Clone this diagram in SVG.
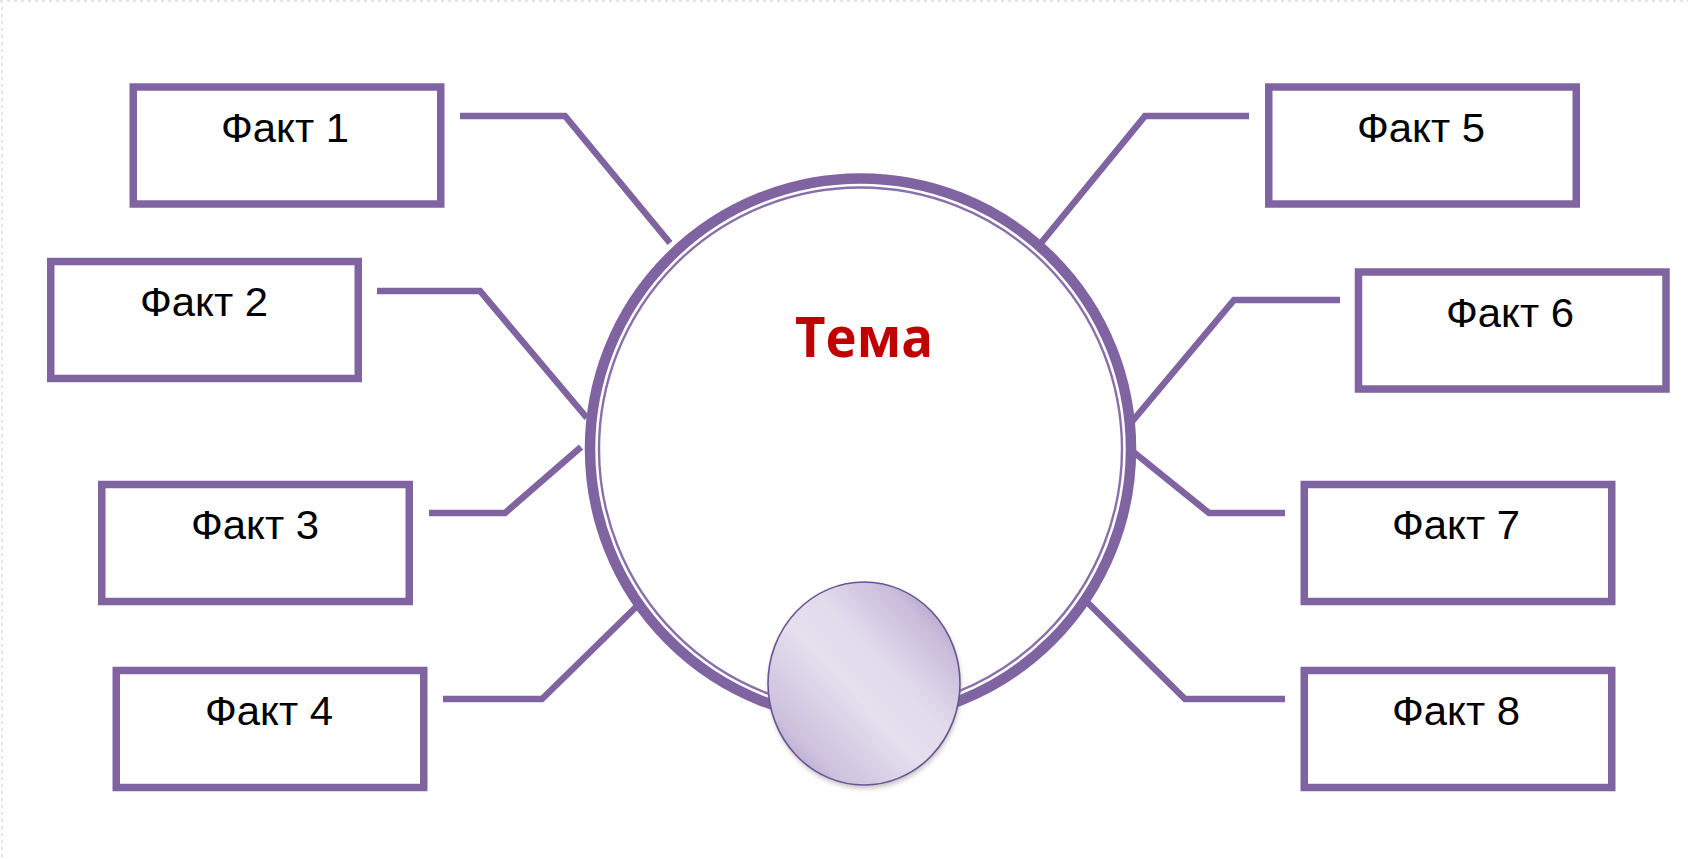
<svg xmlns="http://www.w3.org/2000/svg" width="1688" height="859" viewBox="0 0 1688 859">
  <style>
    .box { fill: #ffffff; stroke: #8064a2; stroke-width: 7.5; }
    .conn { fill: none; stroke: #8064a2; stroke-width: 6.5; stroke-linejoin: miter; }
    .fact { font-family: "Liberation Sans", Arial, sans-serif; font-size: 40px; fill: #000000; text-anchor: middle; }
    .topic { font-family: "Open Sans", "Liberation Sans", sans-serif; font-weight: bold; font-size: 56px; fill: #c00000; text-anchor: middle; }
  </style>
  <defs>
    <linearGradient id="bead" x1="0" y1="1" x2="1" y2="0">
      <stop offset="0" stop-color="#9d86bb"/>
      <stop offset="0.2" stop-color="#cdc2de"/>
      <stop offset="0.45" stop-color="#e5dfee"/>
      <stop offset="0.6" stop-color="#e2dbec"/>
      <stop offset="0.8" stop-color="#c9bddb"/>
      <stop offset="1" stop-color="#9d86bb"/>
    </linearGradient>
    <filter id="shadow" x="-20%" y="-20%" width="140%" height="140%">
      <feGaussianBlur stdDeviation="2.5"/>
    </filter>
  </defs>
  <rect width="1688" height="859" fill="#ffffff"/>
  <g id="frame" fill="none" stroke="#e4e4e4" stroke-width="2" stroke-dasharray="3 4">
    <line x1="0" y1="1" x2="1688" y2="1"/>
    <line x1="2" y1="0" x2="2" y2="859"/>
  </g>

  <g id="connectors">
    <polyline class="conn" points="460,116 565,116 670,243"/>
    <polyline class="conn" points="377,291 480,291 587,418"/>
    <polyline class="conn" points="429,513 505,513 581,447"/>
    <polyline class="conn" points="443,699 542,699 636,607"/>
    <polyline class="conn" points="1249,116 1145,116 1041,243"/>
    <polyline class="conn" points="1340,300 1234,300 1130,424"/>
    <polyline class="conn" points="1285,513 1209,513 1131,450"/>
    <polyline class="conn" points="1285,699 1185,699 1088,603"/>
  </g>

  <g id="topic">
    <circle cx="860.5" cy="449" r="270.5" fill="#ffffff" stroke="#8064a2" stroke-width="10.5"/>
    <circle cx="860.5" cy="449" r="261.5" fill="none" stroke="#8a70aa" stroke-width="2.4"/>
    <text class="topic" x="864" y="357" textLength="138" lengthAdjust="spacingAndGlyphs">Тема</text>
  </g>

  <g id="bead">
    <ellipse cx="865" cy="687" rx="96" ry="101.5" fill="#7a7a7a" opacity="0.45" filter="url(#shadow)"/>
    <ellipse cx="864" cy="683.5" rx="96" ry="101.5" fill="url(#bead)" stroke="#6c5394" stroke-width="1.6"/>
  </g>

  <g id="fact1">
    <rect class="box" x="133.25" y="87" width="307.5" height="117"/>
    <text class="fact" x="285" y="142" textLength="128" lengthAdjust="spacingAndGlyphs">Факт 1</text>
  </g>
  <g id="fact2">
    <rect class="box" x="50.75" y="261.5" width="307.5" height="117"/>
    <text class="fact" x="204" y="316" textLength="128" lengthAdjust="spacingAndGlyphs">Факт 2</text>
  </g>
  <g id="fact3">
    <rect class="box" x="101.75" y="484.5" width="307.5" height="117"/>
    <text class="fact" x="255" y="539" textLength="128" lengthAdjust="spacingAndGlyphs">Факт 3</text>
  </g>
  <g id="fact4">
    <rect class="box" x="116.25" y="670.5" width="307.5" height="117"/>
    <text class="fact" x="269" y="725" textLength="128" lengthAdjust="spacingAndGlyphs">Факт 4</text>
  </g>
  <g id="fact5">
    <rect class="box" x="1268.75" y="87" width="307.5" height="117"/>
    <text class="fact" x="1421" y="142" textLength="128" lengthAdjust="spacingAndGlyphs">Факт 5</text>
  </g>
  <g id="fact6">
    <rect class="box" x="1358.5" y="272" width="307.5" height="117"/>
    <text class="fact" x="1510" y="327" textLength="128" lengthAdjust="spacingAndGlyphs">Факт 6</text>
  </g>
  <g id="fact7">
    <rect class="box" x="1304.25" y="484.5" width="307.5" height="117"/>
    <text class="fact" x="1456" y="539" textLength="128" lengthAdjust="spacingAndGlyphs">Факт 7</text>
  </g>
  <g id="fact8">
    <rect class="box" x="1304.25" y="670.5" width="307.5" height="117"/>
    <text class="fact" x="1456" y="725" textLength="128" lengthAdjust="spacingAndGlyphs">Факт 8</text>
  </g>
</svg>
